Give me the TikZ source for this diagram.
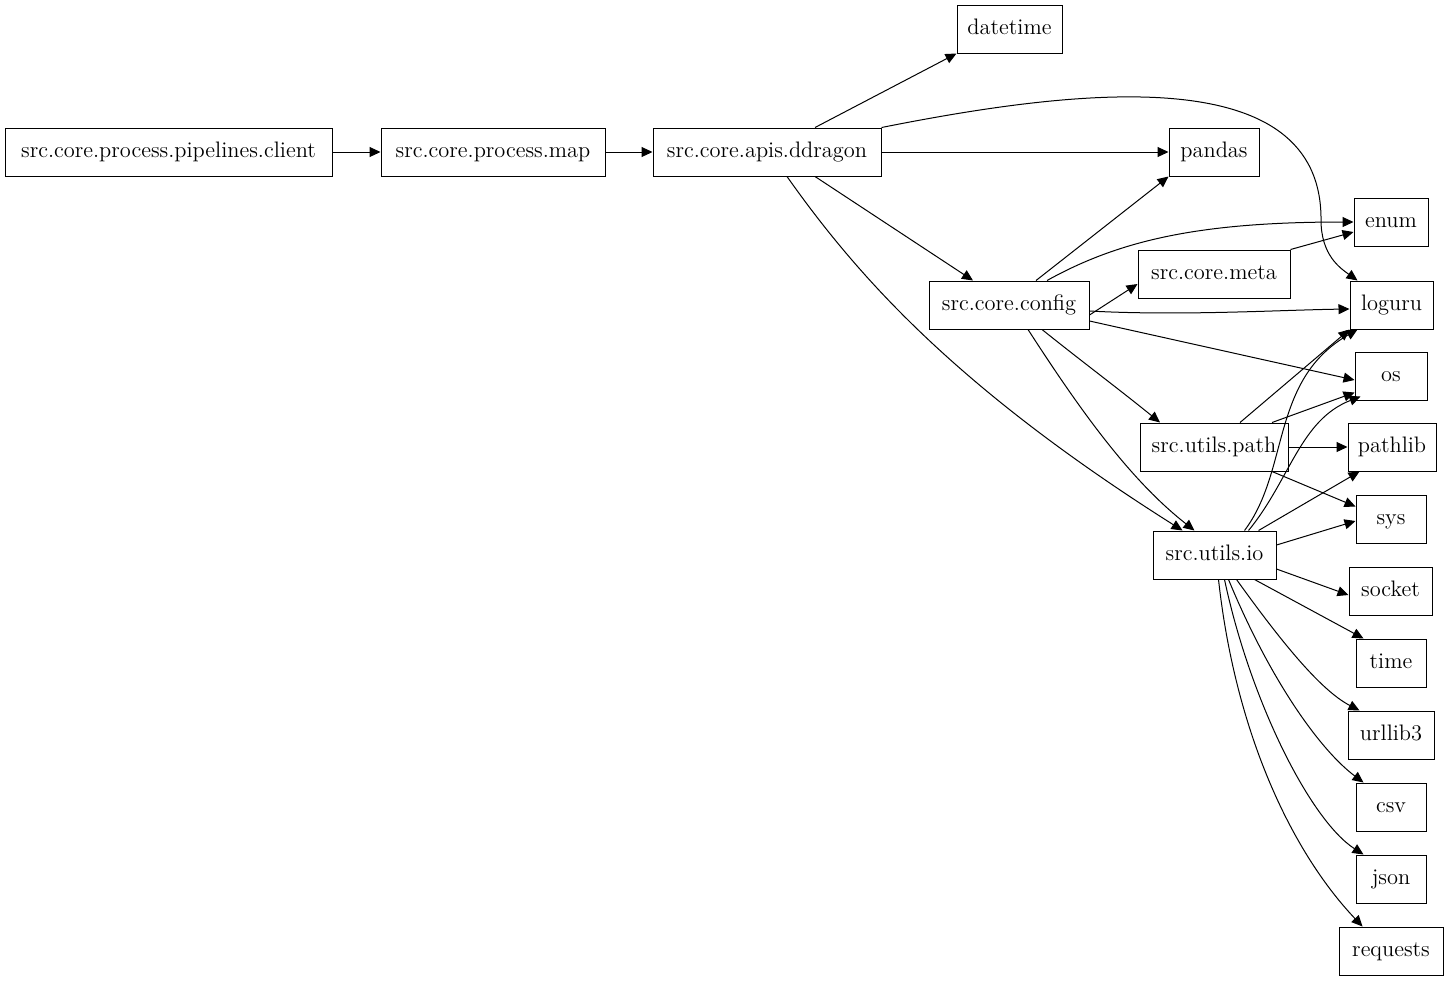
\documentclass[tikz,border=0pt]{standalone}
\usepackage{tikz}
\usetikzlibrary{arrows.meta, positioning}

\begin{document}
\begin{tikzpicture}[
    x=0.5pt, y=-0.5pt,
    mod/.style={rectangle, draw, line width=0.5pt, minimum height=24pt,
                inner xsep=4pt, text height=7.6pt, text depth=2.4pt,
                font=\fontsize{11.2}{13}\selectfont},
    edge/.style={-{Triangle[length=5.5pt,width=5pt]}, line width=0.5pt}
  ]
    \useasboundingbox (0,0) rectangle (1449,981);

    % chain on the left
    \node[mod, minimum width=163.5pt] (client) at (168.5,152) {src.core.process.pipelines.client};
    \node[mod, minimum width=112pt]   (map)    at (493,152)   {src.core.process.map};
    \node[mod, minimum width=114pt]   (ddragon) at (767,152)  {src.core.apis.ddragon};

    % inner modules
    \node[mod, minimum width=80pt] (config) at (1009,305) {src.core.config};
    \node[mod, minimum width=76pt] (meta)   at (1214,274) {src.core.meta};
    \node[mod, minimum width=74pt] (path)   at (1214,447) {src.utils.path};
    \node[mod, minimum width=61.5pt] (io)   at (1214.5,555) {src.utils.io};

    % libraries
    \node[mod, minimum width=52.5pt] (datetime) at (1009.5,29) {datetime};
    \node[mod, minimum width=45pt]   (pandas)   at (1214,152)  {pandas};
    \node[mod, minimum width=37pt]   (enum)     at (1391,222)  {enum};
    \node[mod, minimum width=41.5pt] (loguru)   at (1391.5,305) {loguru};
    \node[mod, minimum width=36pt]   (os)       at (1391,376)  {os};
    \node[mod, minimum width=44pt]   (pathlib)  at (1392,447)  {pathlib};
    \node[mod, minimum width=35pt]   (sys)      at (1391,519)  {sys};
    \node[mod, minimum width=41.5pt] (socket)   at (1390.5,591) {socket};
    \node[mod, minimum width=35pt]   (time)     at (1391,663)  {time};
    \node[mod, minimum width=43pt]   (urllib3)  at (1391,735)  {urllib3};
    \node[mod, minimum width=35pt]   (csv)      at (1391,807)  {csv};
    \node[mod, minimum width=35pt]   (json)     at (1391,879)  {json};
    \node[mod, minimum width=52pt]   (requests) at (1391,951)  {requests};

    \draw[edge] (client) -- (map);
    \draw[edge] (map) -- (ddragon);

    % ddragon
    \draw[edge] (ddragon.north -| 815,0) -- (datetime.south west);
    \draw[edge] (ddragon.north east) .. controls (1080,88) and (1322,60) .. (1321,220)
                .. controls (1321,255) and (1340,268) .. ([xshift=4pt]loguru.north west);
    \draw[edge] (ddragon) -- (pandas);
    \draw[edge] (ddragon.south -| 815,0) -- ([xshift=-18pt]config.north);
    \draw[edge] (ddragon.south -| 787,0) .. controls (860,280) and (960,390) .. ([xshift=-16pt]io.north);

    % config
    \draw[edge] (config.north -| 1036,0) -- (pandas.south west);
    \draw[edge] (config.north -| 1047,0) .. controls (1120,240) and (1200,222) .. (enum.west);
    \draw[edge] ([yshift=-5pt]config.east) -- ([yshift=-5pt]meta.west);
    \draw[edge] ([yshift=-3pt]config.east) .. controls (1180,316) and (1280,310) .. ([yshift=-2pt]loguru.west);
    \draw[edge] ([yshift=-8pt]config.east) -- ([yshift=-2pt]os.west);
    \draw[edge] (config.south -| 1042,0) .. controls (1080,360) and (1120,390) .. ([xshift=-27pt]path.north);
    \draw[edge] (config.south -| 1028,0) .. controls (1080,410) and (1130,480) .. ([xshift=-10pt]io.north);

    % meta
    \draw[edge] (meta.north east) -- ([yshift=-5pt]enum.west);

    % path
    \draw[edge] ([xshift=13pt]path.north) -- (loguru.south west);
    \draw[edge] ([xshift=29pt]path.north) -- ([yshift=4pt]os.south west);
    \draw[edge] (path) -- (pathlib);
    \draw[edge] ([xshift=29pt]path.south) -- ([yshift=-6pt]sys.north west);

    % io
    \draw[edge] ([xshift=15pt]io.north) .. controls (1290,470) and (1270,380) .. ([xshift=4pt]loguru.south west);
    \draw[edge] ([xshift=17pt]io.north) .. controls (1290,480) and (1300,420) .. ([xshift=3pt,yshift=2pt]os.south west);
    \draw[edge] ([xshift=22pt]io.north) -- ([xshift=6pt]pathlib.south west);
    \draw[edge] ([yshift=5pt]io.east) -- ([yshift=-1pt]sys.west);
    \draw[edge] ([yshift=-7pt]io.east) -- ([yshift=-2pt]socket.west);
    \draw[edge] ([xshift=20pt]io.south) -- ([xshift=4pt]time.north west);
    \draw[edge] ([xshift=11pt]io.south) .. controls (1280,640) and (1320,690) .. ([xshift=6pt]urllib3.north west);
    \draw[edge] ([xshift=7pt]io.south) .. controls (1270,680) and (1320,750) .. ([xshift=4pt]csv.north west);
    \draw[edge] ([xshift=5pt]io.south) .. controls (1250,700) and (1310,820) .. ([xshift=4pt]json.north west);
    \draw[edge] ([xshift=2pt]io.south) .. controls (1235,730) and (1290,850) .. ([xshift=12pt]requests.north west);
  \end{tikzpicture}
\end{document}
